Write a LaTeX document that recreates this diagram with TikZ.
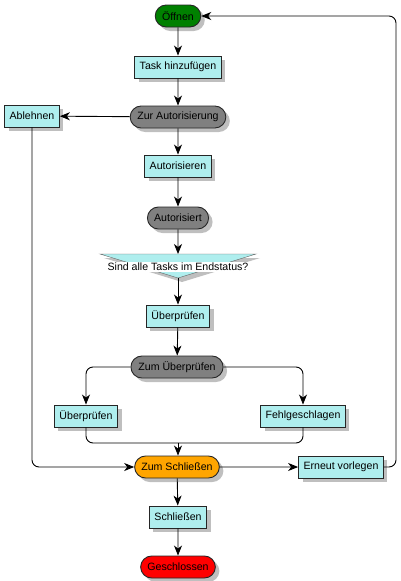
\documentclass[tikz,border=0pt]{standalone}
\usepackage{fontspec}
\setmainfont{Liberation Sans}
\usetikzlibrary{arrows.meta,shapes.misc,shadows}
\definecolor{taskcyan}{RGB}{175,238,238}
\definecolor{stategreen}{RGB}{0,128,0}
\definecolor{stategray}{RGB}{128,128,128}
\definecolor{stateorange}{RGB}{255,165,0}
\definecolor{statered}{RGB}{255,0,0}
\begin{document}
\begin{tikzpicture}
  [
    x=1pt, y=-1pt,
    font=\fontsize{10.6}{12}\selectfont,
    shade/.style={drop shadow={shadow xshift=4pt,shadow yshift=-4pt,fill=black!25,opacity=1}},
    task/.style={rectangle,draw=black!85,line width=0.9pt,fill=taskcyan,minimum height=22pt,inner xsep=5pt,shade},
    state/.style={rounded rectangle,draw=black!85,line width=0.9pt,minimum height=22pt,inner xsep=6pt,shade},
    flow/.style={-{Stealth[length=10pt,width=8pt,inset=3pt]},black,line width=0.9pt},
    link/.style={black,line width=0.9pt}
  ]
  \useasboundingbox (0,0) rectangle (400,581);
  % states
  \node [state,fill=stategreen] (oeffnen) at (178,16) {Öffnen};
  \node [state,fill=stategray] (zurauth) at (178,117) {Zur Autorisierung};
  \node [state,fill=stategray] (autorisiert) at (178,218) {Autorisiert};
  \node [state,fill=stategray] (zumpruef) at (177,367) {Zum Überprüfen};
  \node [state,fill=stateorange] (zumschl) at (177,467) {Zum Schließen};
  \node [state,fill=statered] (geschl) at (178,567) {Geschlossen};
  % tasks
  \node [task] (hinzu) at (178,67) {Task hinzufügen};
  \node [task] (ablehnen) at (32,116) {Ablehnen};
  \node [task] (autor) at (178,166) {Autorisieren};
  \node [task] (pruef) at (178,316) {Überprüfen};
  \node [task] (pruefL) at (86,416) {Überprüfen};
  \node [task] (fehl) at (303,416) {Fehlgeschlagen};
  \node [task] (erneut) at (341,467) {Erneut vorlegen};
  \node [task] (schliessen) at (178,517) {Schließen};
  % decision
  \coordinate (dtl) at (100,254);
  \coordinate (dtr) at (256,254);
  \coordinate (dbot) at (178,278);
  \fill [black!25] ([shift={(4,4)}]dtl) -- ([shift={(4,4)}]dtr) -- ([shift={(4,4)}]dbot) -- cycle;
  \draw [fill=taskcyan,draw=black!60] (dtl) -- (dtr) -- (dbot) -- cycle;
  \node [fill=white,inner xsep=1pt,inner ysep=1.5pt] (frage) at (178,267) {Sind alle Tasks im Endstatus?};
  \coordinate (merge) at (178,443);
  \coordinate (back) at (396,16);
  % main line
  \draw [flow] (oeffnen) -- (hinzu);
  \draw [flow] (hinzu) -- (zurauth);
  \draw [flow] (zurauth) -- (autor);
  \draw [flow] (zurauth) -- (ablehnen);
  \draw [flow] (autor) -- (autorisiert);
  \draw [flow] (autorisiert) -- (dtl -| autorisiert);
  \draw [flow] (dbot) -- (pruef);
  \draw [flow] (pruef) -- (zumpruef);
  \draw [flow] (zumschl) -- (schliessen);
  \draw [flow] (schliessen) -- (geschl);
  % branches
  \draw [flow,rounded corners=7pt] (zumpruef.west) -| (pruefL.north);
  \draw [flow,rounded corners=7pt] (zumpruef.east) -| (fehl.north);
  \draw [link,rounded corners=7pt] (pruefL.south) |- (merge);
  \draw [link,rounded corners=7pt] (fehl.south) |- (merge);
  \draw [flow] (merge) -- (zumschl.north -| merge);
  \draw [flow,rounded corners=7pt] (ablehnen.south) |- (zumschl.west);
  \draw [flow] (zumschl) -- (erneut);
  \draw [flow,rounded corners=7pt] (erneut.east) -| (back) -- (oeffnen.east);
\end{tikzpicture}
\end{document}
